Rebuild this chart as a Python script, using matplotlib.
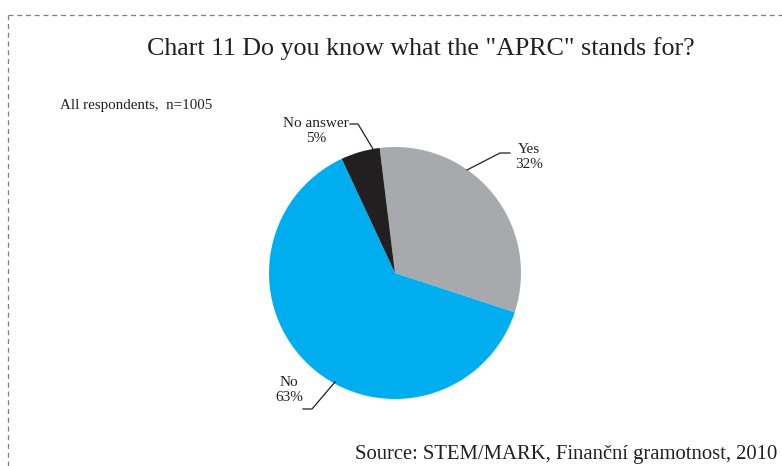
import matplotlib
matplotlib.use("Agg")
import matplotlib.pyplot as plt
from matplotlib.lines import Line2D

# Survey answers
categories = ["Yes", "No", "No answer"]
shares = [32, 63, 5]
colors = ["#A7A9AC", "#00AEEF", "#231F20"]

W, H = 782, 466
fig = plt.figure(figsize=(W / 100, H / 100), dpi=100)
fig.patch.set_facecolor("white")
plt.rcParams["font.family"] = ["Liberation Serif", "DejaVu Serif"]
text_color = "#231F20"

# Axes spanning the whole figure, measured in pixels (y up)
ax = fig.add_axes([0, 0, 1, 1])
cx, cy, r = 395, H - 273, 126
wedges, _ = ax.pie(shares, colors=colors, startangle=97, counterclock=False,
                   center=(cx, cy), radius=r,
                   wedgeprops=dict(linewidth=0))
ax.set_xlim(0, W)
ax.set_ylim(0, H)
ax.set_aspect("equal")
ax.axis("off")

# Dashed frame (top and left edges)
frame_kw = dict(color="#7F7F7F", lw=0.9, ls=(0, (4, 3)))
ax.add_line(Line2D([8, W], [H - 15, H - 15], **frame_kw))
ax.add_line(Line2D([8, 8], [0, H - 15], **frame_kw))

fig.text(421 / W, 1 - 49 / H, 'Chart 11 Do you know what the "APRC" stands for?',
         ha="center", va="center", fontsize=18.7, color=text_color)
fig.text(60 / W, 1 - 105 / H, "All respondents,  n=1005",
         ha="left", va="center", fontsize=10.8, color=text_color)
fig.text(777 / W, 1 - 455 / H, "Source: STEM/MARK, Finanční gramotnost, 2010",
         ha="right", va="center", fontsize=14.9, color=text_color)

# Labels with leader lines
def label(text_xy, lines_xy, txt):
    ax.text(text_xy[0], H - text_xy[1], txt, ha="center", va="center",
            fontsize=11, color=text_color, linespacing=1.2,
            multialignment="center")
    xs = [p[0] for p in lines_xy]
    ys = [H - p[1] for p in lines_xy]
    ax.add_line(Line2D(xs, ys, color=text_color, lw=0.9))

label((316, 131), [(350, 124), (358, 124), (373, 149)],
      f"{categories[2]}\n{shares[2]}%")
label((529, 157), [(510, 153), (500, 153), (467, 170)],
      f"{categories[0]}\n{shares[0]}%")
label((289, 390), [(303, 409), (312, 409), (335, 382)],
      f"{categories[1]}\n{shares[1]}%")

fig.savefig("out.png", dpi=100, facecolor="white")
